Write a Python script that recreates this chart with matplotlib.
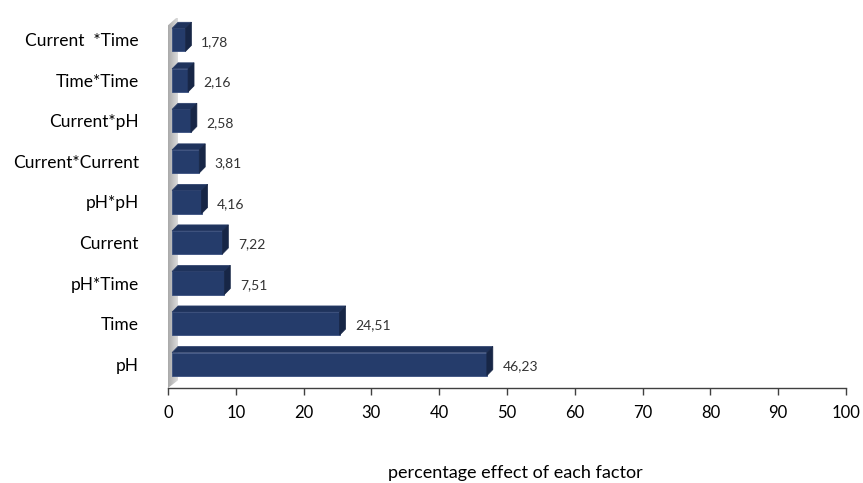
import numpy as np
import matplotlib
matplotlib.use("Agg")
import matplotlib.pyplot as plt
from matplotlib.patches import Polygon

plt.rcParams['font.family'] = ['Lato', 'DejaVu Sans']

factors = ['pH', 'Time', 'pH*Time', 'Current', 'pH*pH',
           'Current*Current', 'Current*pH', 'Time*Time', 'Current  *Time']
effects = [46.23, 24.51, 7.51, 7.22, 4.16, 3.81, 2.58, 2.16, 1.78]
value_labels = ['46,23', '24,51', '7,51', '7,22', '4,16', '3,81', '2,58', '2,16', '1,78']
xticks = [0, 10, 20, 30, 40, 50, 60, 70, 80, 90, 100]

fig = plt.figure(figsize=(8.63, 4.83), dpi=100)
ax = fig.add_axes([168 / 863, 95 / 483, 678 / 863, 370 / 483])
ax.set_xlim(0, 100)
ax.set_ylim(-0.59, 8.54)

front_col = '#253c6b'
top_col = '#1f335c'
side_col = '#172646'
dx, dy = 0.88, 0.15   # depth of the fake 3d
h = 0.57
left = 0.6
ypos = np.arange(len(factors))

# gray back wall with a gradient
wall = Polygon([(0, -0.59), (0, 8.36), (1.47, 8.58), (1.47, -0.40)],
               closed=True, facecolor='none', edgecolor='none')
ax.add_patch(wall)
grad = np.linspace(0, 1, 50).reshape(1, -1)
im = ax.imshow(grad, extent=[0, 1.47, -0.59, 8.58], aspect='auto',
               cmap=matplotlib.colors.LinearSegmentedColormap.from_list(
                   'w', ['#a9a9a9', '#dcdcdc']), zorder=1)
im.set_clip_path(wall)
ax.set_ylim(-0.59, 8.54)

for y, v in zip(ypos, effects):
    w = v + 0.2
    ax.barh(y, w, left=left, height=h, color=front_col,
            edgecolor='#3a5080', linewidth=0.6, zorder=3)
    top = Polygon([(left, y + h / 2), (left + dx, y + h / 2 + dy),
                   (left + w + dx, y + h / 2 + dy), (left + w, y + h / 2)],
                  closed=True, facecolor=top_col, edgecolor='#2a3e6a',
                  linewidth=0.5, zorder=3)
    side = Polygon([(left + w, y - h / 2), (left + w, y + h / 2),
                    (left + w + dx, y + h / 2 + dy), (left + w + dx, y - h / 2 + dy)],
                   closed=True, facecolor=side_col, edgecolor='#172646',
                   linewidth=0.5, zorder=3)
    ax.add_patch(top)
    ax.add_patch(side)

for y, v, lab in zip(ypos, effects, value_labels):
    ax.text(v + 3.1, y - 0.05, lab, va='center', ha='left',
            fontsize=10, color='#333333')

ax.set_yticks(ypos)
ax.set_yticklabels(factors, fontsize=12.5, color='black')
ax.tick_params(axis='y', length=0, pad=21)
ax.set_xticks(xticks)
ax.tick_params(axis='x', direction='out', length=5, width=1,
               color='#404040', labelsize=12, pad=7)
for s in ['top', 'right', 'left']:
    ax.spines[s].set_visible(False)
ax.spines['bottom'].set_color('#404040')
ax.spines['bottom'].set_linewidth(1)

fig.text(515 / 863, 10 / 483, 'percentage effect of each factor',
         ha='center', va='center', fontsize=13)

fig.savefig('out.png', dpi=100)
